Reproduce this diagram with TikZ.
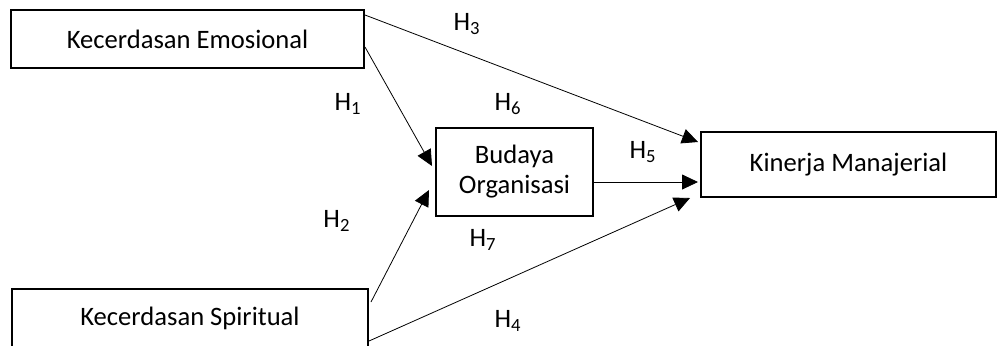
\documentclass[tikz,border=0pt]{standalone}
\usepackage{fontspec}
\setmainfont{Carlito}
\usetikzlibrary{arrows.meta, positioning}
\tikzset{
    ->,  % all edges are directed
    >={Triangle[length=8pt,width=7.5pt]}, % filled arrow heads
    line width=1.1pt,
    box/.style={draw, -, line width=1pt, align=center, inner sep=0pt,
        font=\fontsize{13.3}{15}\selectfont}, % the four variables
    hyp/.style={inner sep=0pt, font=\fontsize{13.3}{15}\selectfont}, % hypothesis labels
}

\begin{document}
\begin{tikzpicture}[x=0.5pt, y=-0.5pt]
    \useasboundingbox (0,0) rectangle (1000,345);
    % variables
    \node[box, minimum width=176.5pt, minimum height=29pt] (ke) at (187.5,39) {Kecerdasan Emosional};
    \node[box, minimum width=178pt, minimum height=29pt] (ks) at (190,318) {Kecerdasan Spiritual};
    \node[box, minimum width=78.5pt, minimum height=44pt] (bo) at (514.5,172) {Budaya\\Organisasi};
    \node[box, minimum width=147.5pt, minimum height=32.5pt] (km) at (848.5,164.5) {Kinerja Manajerial};
    % paths
    \draw ([yshift=-3pt]ke.north east) -- ([xshift=-1pt,yshift=-5.5pt]km.north west);
    \draw ([yshift=-4pt]ke.east) -- ([xshift=-1.5pt,yshift=3pt]bo.west);
    \draw ([xshift=1pt,yshift=-7pt]ks.north east) -- ([xshift=-3pt,yshift=-9pt]bo.west);
    \draw ([yshift=-11.5pt]ks.east) -- ([xshift=-5pt]km.south west);
    \draw ([yshift=-5pt]bo.east) -- ([xshift=-1pt,yshift=-8.75pt]km.west);
    % hypotheses
    \node[hyp] (h1) at (348,104) {H\textsubscript{1}};
    \node[hyp] (h2) at (337,221) {H\textsubscript{2}};
    \node[hyp] (h3) at (467,24) {H\textsubscript{3}};
    \node[hyp] (h4) at (508,321) {H\textsubscript{4}};
    \node[hyp] (h5) at (643,152) {H\textsubscript{5}};
    \node[hyp] (h6) at (508,104) {H\textsubscript{6}};
    \node[hyp] (h7) at (483,240) {H\textsubscript{7}};
\end{tikzpicture}
\end{document}
